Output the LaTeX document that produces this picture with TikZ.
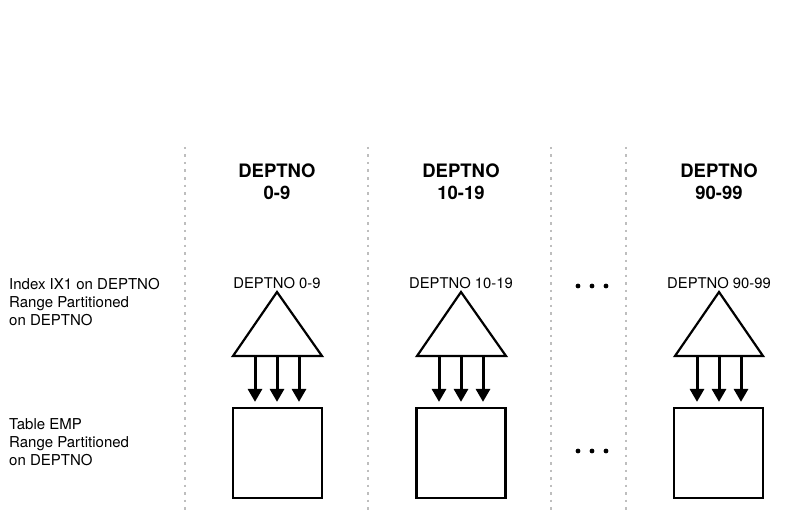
\documentclass[tikz,border=0pt]{standalone}
\usepackage{fontspec}
\setmainfont{TeX Gyre Heros}
\usepackage{tikz}
\usetikzlibrary{arrows.meta}
\definecolor{sepgray}{RGB}{190,190,190}

\begin{document}
\begin{tikzpicture}[x=1pt, y=-1pt,
    head/.style={align=center, font=\fontsize{18.5}{22}\selectfont\bfseries},
    side/.style={align=left, anchor=west, inner sep=0pt, font=\fontsize{15}{18}\selectfont},
    part/.style={inner sep=0pt, font=\fontsize{14.8}{18}\selectfont},
    tbl/.style={draw, line width=2.2pt, minimum width=89pt, minimum height=90pt, inner sep=0pt},
    idx/.style={draw, line width=2.2pt, line join=miter},
    flow/.style={line width=3pt, -{Triangle[width=14pt,length=13pt]}, shorten >=5pt}]
\tikzset{
        sep/.style={draw=sepgray, line width=1.2pt, dash pattern=on 2.5pt off 5pt},
        dot/.style={fill, circle, inner sep=1.7pt},
    }
  \useasboundingbox (0,0) rectangle (802,513);

  % dotted separators
  \draw[sep] (185,147) -- (185,513);
  \draw[sep] (368,147) -- (368,513);
  \draw[sep] (551,147) -- (551,513);
  \draw[sep] (626,147) -- (626,513);

  % row labels
  \node[side] (lidx) at (9,302) {Index IX1 on DEPTNO\\Range Partitioned\\on DEPTNO};
  \node[side] (ltbl) at (9,442) {Table EMP\\Range Partitioned\\on DEPTNO};

  % partition 0-9
  \node[head] (h0) at (277,182) {DEPTNO\\0-9};
  \node[part] (p0) at (277,283) {DEPTNO 0-9};
  \coordinate (t0) at (277,292);
  \coordinate (t0l) at (233,356);
  \coordinate (t0r) at (322,356);
  \draw[idx] (t0) -- (t0l) -- (t0r) -- cycle;
  \node[tbl] (b0) at (277.5,453) {};
  \draw[flow] (255,356) -- (255,356 |- b0.north);
  \draw[flow] (277,356) -- (277,356 |- b0.north);
  \draw[flow] (299,356) -- (299,356 |- b0.north);

  % partition 10-19
  \node[head] (h1) at (461,182) {DEPTNO\\10-19};
  \node[part] (p1) at (461,283) {DEPTNO 10-19};
  \coordinate (t1) at (461,292);
  \coordinate (t1l) at (417,356);
  \coordinate (t1r) at (506,356);
  \draw[idx] (t1) -- (t1l) -- (t1r) -- cycle;
  \node[tbl] (b1) at (461,453) {};
  \draw[flow] (439,356) -- (439,356 |- b1.north);
  \draw[flow] (461,356) -- (461,356 |- b1.north);
  \draw[flow] (483,356) -- (483,356 |- b1.north);

  % partitions in between
  \node[dot] (d1) at (578,286) {};
  \node[dot] (d2) at (592,286) {};
  \node[dot] (d3) at (606,286) {};
  \node[dot] (d4) at (578,451) {};
  \node[dot] (d5) at (592,451) {};
  \node[dot] (d6) at (606,451) {};

  % partition 90-99
  \node[head] (h9) at (719,182) {DEPTNO\\90-99};
  \node[part] (p9) at (719,283) {DEPTNO 90-99};
  \coordinate (t9) at (719,292);
  \coordinate (t9l) at (675,356);
  \coordinate (t9r) at (763,356);
  \draw[idx] (t9) -- (t9l) -- (t9r) -- cycle;
  \node[tbl] (b9) at (718.5,453) {};
  \draw[flow] (697,356) -- (697,356 |- b9.north);
  \draw[flow] (719,356) -- (719,356 |- b9.north);
  \draw[flow] (741,356) -- (741,356 |- b9.north);
\end{tikzpicture}
\end{document}
